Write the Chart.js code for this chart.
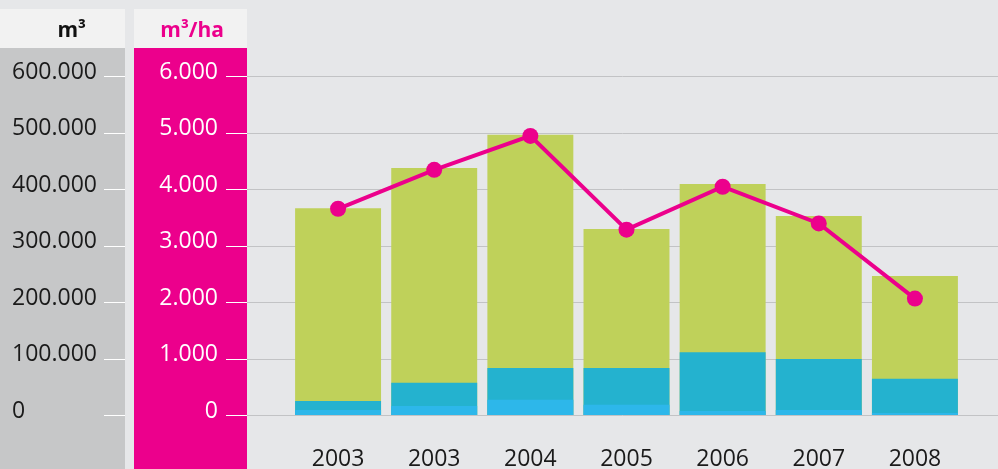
<!DOCTYPE html>
<html lang="de">
<head>
    <meta charset="UTF-8">
    <title>m3 / m3 per ha</title>
    <script src="https://cdn.jsdelivr.net/npm/chart.js"></script>
    <style>
        body { margin: 0; background: #e6e7e9; }
        canvas { display: block; }
    </style>
</head>
<body>
    <canvas id="chart" width="998" height="469"></canvas>

    <script>
        // data
        const years = ['2003', '2003', '2004', '2005', '2006', '2007', '2008'];
        const totalM3 = [366000, 437000, 496000, 329000, 409000, 352000, 246000];
        const partM3 = [25000, 57000, 83000, 83000, 111000, 99000, 64000];
        const baseM3 = [9000, 16000, 27000, 18000, 7000, 9000, 3500];
        const perHa = [3650, 4340, 4940, 3280, 4040, 3390, 2060];

        const fmt = v => v.toLocaleString('de-DE');
        const font = '"Open Sans", sans-serif';

        // panels, headers, tick marks and grid lines
        const panels = {
            id: 'panels',
            beforeDraw(chart) {
                const c = chart.ctx;
                const w = chart.width, h = chart.height;
                c.save();
                c.fillStyle = '#e6e7e9';
                c.fillRect(0, 0, w, h);
                c.fillStyle = '#f2f2f2';
                c.fillRect(0, 9, 125, 39);
                c.fillRect(134, 9, 113, 39);
                c.fillStyle = '#c6c7c8';
                c.fillRect(0, 48, 125, h - 48);
                c.fillStyle = '#ec008c';
                c.fillRect(134, 48, 113, h - 48);

                c.font = 'bold 21px ' + font;
                c.textBaseline = 'middle';
                c.textAlign = 'right';
                c.fillStyle = '#111';
                c.fillText('m³', 86, 31);
                c.fillStyle = '#ec008c';
                c.fillText('m³/ha', 224, 31);

                const s = chart.scales.y2;
                s.ticks.forEach(t => {
                    const y = Math.round(s.getPixelForValue(t.value)) + 0.5;
                    c.lineWidth = 1;
                    c.strokeStyle = '#ffffff';
                    c.beginPath();
                    c.moveTo(104, y); c.lineTo(125, y);
                    c.moveTo(226, y); c.lineTo(247, y);
                    c.stroke();
                    c.strokeStyle = '#c2c3c5';
                    c.beginPath();
                    c.moveTo(247, y); c.lineTo(w, y);
                    c.stroke();
                });
                c.restore();
            }
        };

        new Chart(document.getElementById('chart'), {
            data: {
                labels: years,
                datasets: [
                    {
                        type: 'line',
                        data: perHa,
                        yAxisID: 'y2',
                        borderColor: '#ec008c',
                        backgroundColor: '#ec008c',
                        borderWidth: 4,
                        pointRadius: 8,
                        pointBorderWidth: 0,
                        tension: 0,
                        order: 0
                    },
                    {
                        type: 'bar',
                        data: baseM3,
                        yAxisID: 'y',
                        backgroundColor: '#2db7ea',
                        grouped: false,
                        order: 1
                    },
                    {
                        type: 'bar',
                        data: partM3,
                        yAxisID: 'y',
                        backgroundColor: '#24b2cf',
                        grouped: false,
                        order: 2
                    },
                    {
                        type: 'bar',
                        data: totalM3,
                        yAxisID: 'y',
                        backgroundColor: '#bfd15a',
                        grouped: false,
                        order: 3
                    }
                ]
            },
            options: {
                responsive: false,
                animation: false,
                layout: { autoPadding: false, padding: { top: 76, right: 35, left: 12, bottom: 0 } },
                datasets: { bar: { barPercentage: 0.894, categoryPercentage: 1 } },
                plugins: { legend: { display: false }, tooltip: { enabled: false } },
                scales: {
                    x: {
                        grid: { display: false, drawTicks: false },
                        border: { display: false },
                        ticks: { color: '#1a1a1a', font: { family: font, size: 23 }, padding: 31, maxRotation: 0 },
                        afterFit(s) { s.height = 54; }
                    },
                    y: {
                        position: 'left',
                        weight: 1,
                        min: 0, max: 600000,
                        grid: { display: false, drawTicks: false },
                        border: { display: false },
                        ticks: {
                            stepSize: 100000, crossAlign: 'far', color: '#1a1a1a', labelOffset: -4,
                            font: { family: font, size: 23 }, callback: v => fmt(v)
                        },
                        afterFit(s) { s.width = 122; }
                    },
                    y2: {
                        position: 'left',
                        weight: 0,
                        min: 0, max: 6000,
                        // tick marks are not drawn, the length only moves the labels left
                        grid: { display: false, drawTicks: true, tickLength: 72 },
                        border: { display: false },
                        ticks: {
                            stepSize: 1000, crossAlign: 'near', color: '#ffffff', padding: 0, labelOffset: -4,
                            font: { family: font, size: 23 }, callback: v => fmt(v)
                        },
                        afterFit(s) { s.width = 156; }
                    }
                }
            },
            plugins: [panels]
        });
    </script>
</body>
</html>
